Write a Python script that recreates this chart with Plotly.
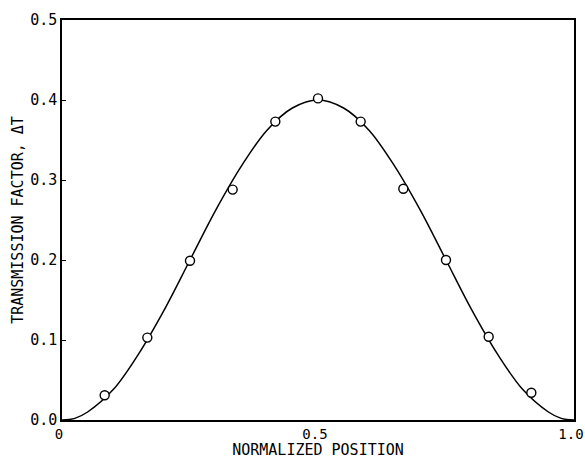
import plotly.graph_objects as go

# Measured points (open circles)
pos_pts = [1/12, 2/12, 3/12, 4/12, 5/12, 6/12, 7/12, 8/12, 9/12, 10/12, 11/12]
dT_pts = [0.031, 0.103, 0.199, 0.288, 0.373, 0.402, 0.373, 0.289, 0.200, 0.104, 0.034]

# Fitted curve
pos_curve = [0.0, 0.025, 0.05, 0.1, 0.15, 0.2, 0.25, 0.3, 0.35, 0.4, 0.45, 0.5,
             0.55, 0.6, 0.65, 0.7, 0.75, 0.8, 0.85, 0.9, 0.95, 0.975, 1.0]
dT_curve = [0.0, 0.002, 0.010, 0.038, 0.083, 0.138, 0.200, 0.262, 0.317, 0.362, 0.390, 0.400,
            0.390, 0.362, 0.317, 0.262, 0.200, 0.138, 0.083, 0.038, 0.010, 0.002, 0.0]

x_tickvals = [0, 0.5, 1.0]
x_ticktext = ["0", "0.5", "1.0"]
y_tickvals = [0.0, 0.1, 0.2, 0.3, 0.4, 0.5]
y_ticktext = ["0.0", "0.1", "0.2", "0.3", "0.4", "0.5"]

FONT = "DejaVu Sans Mono"

fig = go.Figure()
fig.add_trace(go.Scatter(x=pos_curve, y=dT_curve, mode="lines", line_shape="spline",
                         line=dict(color="black", width=1.5), hoverinfo="skip",
                         showlegend=False))
fig.add_trace(go.Scatter(x=pos_pts, y=dT_pts, mode="markers",
                         marker=dict(symbol="circle", size=9, color="white",
                                     line=dict(color="black", width=1.4)),
                         showlegend=False))

fig.update_layout(
    width=585, height=459,
    margin=dict(l=62, r=11, t=20, b=39),
    paper_bgcolor="white", plot_bgcolor="white",
    font=dict(family=FONT, color="black"),
)
fig.update_xaxes(
    range=[0, 1.0], tickvals=x_tickvals, ticktext=x_ticktext,
    showgrid=False, zeroline=False, showline=True, linecolor="black", linewidth=1.5,
    mirror=True, ticks="", tickfont=dict(size=14, family=FONT),
    ticklabeloverflow="allow", ticklabelshift=-3,
    title=dict(text="NORMALIZED POSITION", font=dict(size=15, family=FONT), standoff=1),
    automargin=False,
)
fig.update_yaxes(
    range=[0, 0.5], tickvals=y_tickvals, ticktext=y_ticktext,
    showgrid=False, zeroline=False, showline=True, linecolor="black", linewidth=1.5,
    mirror=True, ticks="inside", ticklen=4, tickcolor="black",
    tickfont=dict(size=15, family=FONT),
    ticklabeloverflow="allow",
    title=dict(text="TRANSMISSION FACTOR, ΔT", font=dict(size=15, family=FONT), standoff=3),
    automargin=False,
)

fig.write_html("out.html")
